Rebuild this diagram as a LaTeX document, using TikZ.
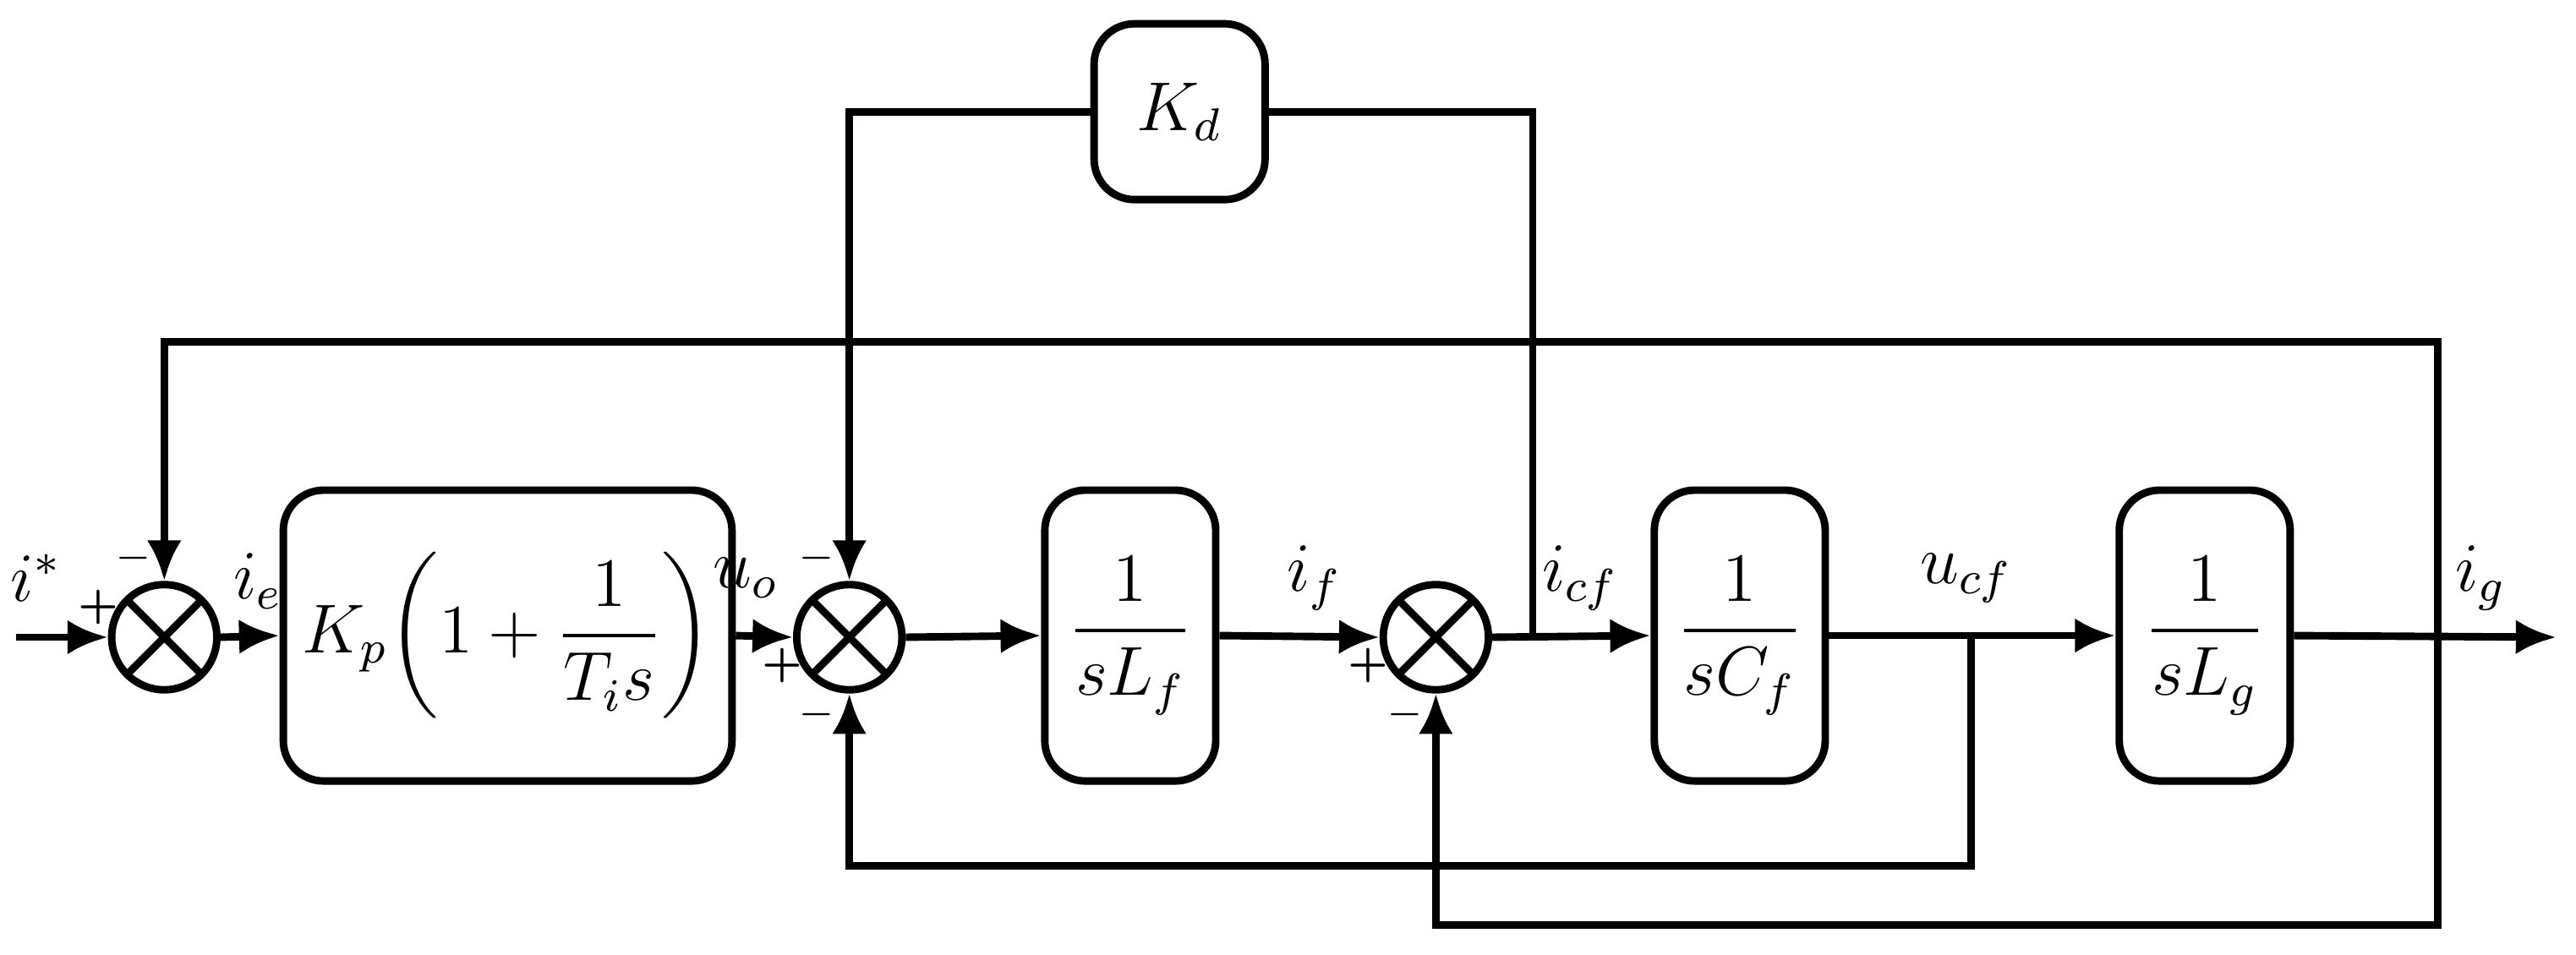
\documentclass[tikz,border=0pt]{standalone}
\usepackage{amsmath}
\usetikzlibrary{arrows.meta,calc}

\tikzset{
  blk/.style={draw, line width=1.3pt, rounded corners=7pt, minimum width=1.04cm, minimum height=1.77cm, font=\large},
  summ/.style={draw, circle, line width=1.3pt, minimum size=0.64cm, inner sep=0pt,
    path picture={\draw[line width=1.3pt] (path picture bounding box.north west) -- (path picture bounding box.south east)
      (path picture bounding box.north east) -- (path picture bounding box.south west);}},
  sig/.style={line width=1.3pt, -{Latex[length=7pt,width=6pt]}},
  sgn/.style={font=\scriptsize\bfseries, inner sep=0pt}
}

\begin{document}
\begin{tikzpicture}[x=0.01cm,y=-0.01cm]
  \useasboundingbox (0,0) rectangle (1568,581);

  % Bloques
  \node[summ] (sum1) at (100,388) {};
  \node[blk, minimum width=2.38cm] (pi) at (309,387) {$K_p\!\left(1+\dfrac{1}{T_i s}\right)$};
  \node[summ] (sum2) at (517,388) {};
  \node[blk] (lf) at (688,387) {$\dfrac{1}{sL_f}$};
  \node[summ] (sum3) at (874,388) {};
  \node[blk] (cf) at (1059,387) {$\dfrac{1}{sC_f}$};
  \node[blk] (lg) at (1342,387) {$\dfrac{1}{sL_g}$};
  \node[blk, minimum height=1.07cm] (kd) at (718,68) {$K_d$};

  % Puntos
  \coordinate (in) at (10,388);
  \coordinate (out) at (1556,388);
  \coordinate (b1) at (933,388);
  \coordinate (b2) at (1200,388);
  \coordinate (b3) at (1484,388);

  % Camino directo
  \draw[sig] (in) -- (sum1.west);
  \draw[sig] (sum1.east) -- (pi.west);
  \draw[sig] (pi.east) -- (sum2.west);
  \draw[sig] (sum2.east) -- (lf.west);
  \draw[sig] (lf.east) -- (sum3.west);
  \draw[sig] (sum3.east) -- (cf.west);
  \draw[sig] (cf.east) -- (lg.west);
  \draw[sig] (lg.east) -- (out);

  % Realimentaciones
  \draw[sig] (b3) -- (1484,208) -| (sum1.north);
  \draw[line width=1.3pt] (b1) |- (kd.east);
  \draw[sig] (kd.west) -| (sum2.north);
  \draw[sig] (b2) -- (1200,527) -| (sum2.south);
  \draw[sig] (b3) -- (1484,563) -| (sum3.south);

  % Etiquetas
  \node[font=\large] at (22,352) {$i^{*}$};
  \node[font=\large] at (157,354) {$i_e$};
  \node[font=\large] at (454,352) {$u_o$};
  \node[font=\large] at (800,352) {$i_f$};
  \node[font=\large] at (962,352) {$i_{cf}$};
  \node[font=\large] at (1197,352) {$u_{cf}$};
  \node[font=\large] at (1510,352) {$i_g$};

  % Signos
  \node[sgn] at (60,370) {+};
  \node[sgn] at (81,340) {$-$};
  \node[sgn] at (497,340) {$-$};
  \node[sgn] at (476,405) {+};
  \node[sgn] at (497,435) {$-$};
  \node[sgn] at (833,405) {+};
  \node[sgn] at (855,435) {$-$};
\end{tikzpicture}
\end{document}
